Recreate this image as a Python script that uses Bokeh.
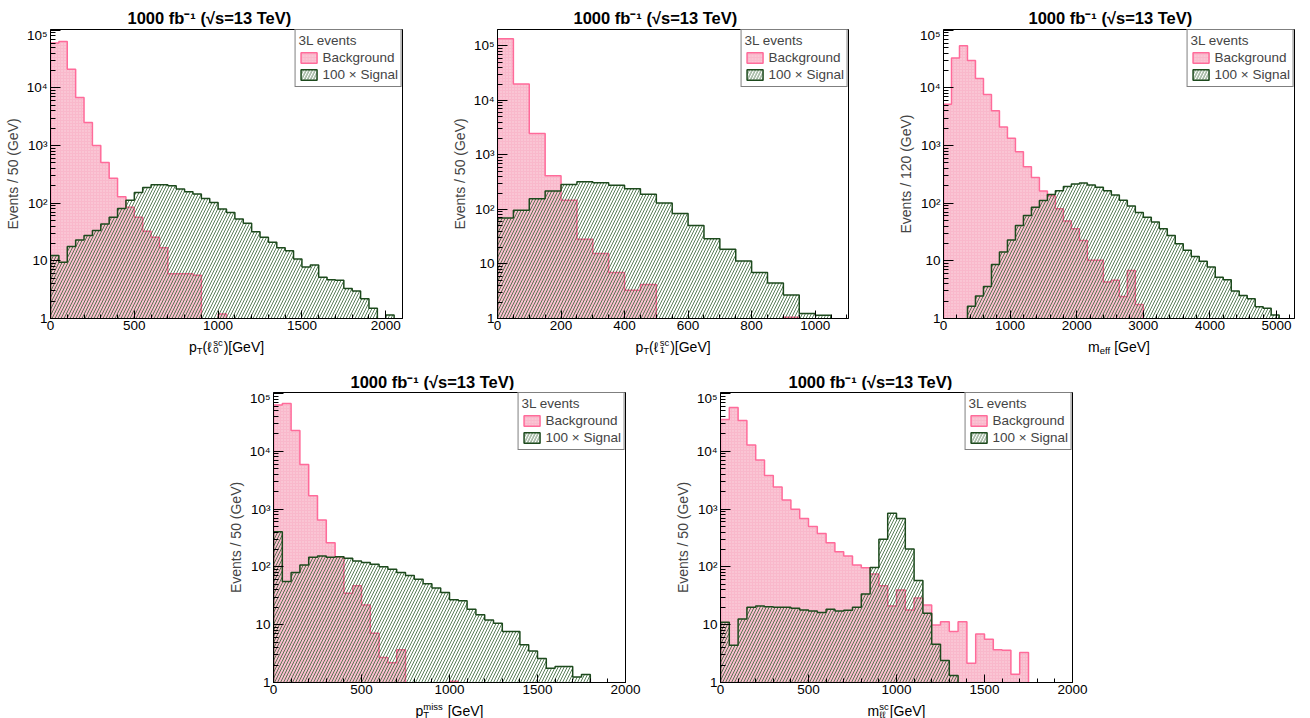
import numpy as np
from bokeh.plotting import figure
from bokeh.models import FixedTicker, Legend, LegendItem, Range1d, Spacer
from bokeh.core.properties import value
from bokeh.layouts import row, column
from bokeh.embed import file_html
from bokeh.resources import INLINE

# ---------------- data (events per bin) ----------------
# Panel 1: pT(l0 sc), 50 GeV bins from 0
pt0_bin = 50
pt0_bkg = [6.0e4, 6.4e4, 2.1e4, 6.8e3, 2.5e3, 1.0e3, 510, 270, 130, 85, 57, 32.5, 25.7, 16.8,
           6.0, 6.0, 6.0, 5.6, 0, 0, 1.2]
pt0_sig = [12.4, 9.5, 17.7, 23, 27.5, 33.6, 43.6, 57, 81, 113, 154, 187, 209, 209, 200, 176, 158,
           144, 121, 103, 79, 69, 53, 45, 32, 25.7, 21, 16.8, 15, 10.8, 7.8, 8.5, 5.2, 4.7, 4.6,
           3.3, 3.0, 2.2, 1.5, 0, 1.15]

# Panel 2: pT(l1 sc), 50 GeV bins from 0
pt1_bin = 50
pt1_bkg = [1.36e5, 2.0e4, 2.47e3, 414, 148, 28.5, 15.5, 7.0, 3.3, 4.2, 0, 0, 0, 0, 0, 0, 0, 0, 1.05]
pt1_sig = [70, 97, 158, 219, 286, 323, 308, 278, 239, 190, 132, 84, 51, 29, 18.7, 11.4, 7.0, 4.5,
           2.7, 1.23, 1.15]

# Panel 3: m_eff, 120 GeV bins from 0
meff_bin = 120
meff_bkg = [5.2e3, 3.3e4, 5.4e4, 3.0e4, 1.46e4, 7.7e3, 4.0e3, 2.1e3, 1.34e3, 780, 430, 280, 163,
            135, 80, 49, 36, 22.5, 10.2, 10.2, 4.3, 4.6, 2.4, 6.8, 1.75]
meff_sig = [0, 0, 0, 1.63, 2.46, 3.6, 8.6, 14.2, 23, 41, 61, 85, 111, 141, 165, 194, 215, 224, 207,
            189, 165, 139, 113, 89, 69, 57, 47, 36, 27.5, 19.8, 15.2, 11.9, 9.8, 7.8, 5.2, 4.7,
            3.0, 2.5, 2.2, 1.6, 1.5, 1.15]

# Panel 4: pT miss, 50 GeV bins from 0
met_bin = 50
met_bkg = [6.3e4, 6.7e4, 2.3e4, 5.9e3, 1.7e3, 650, 262, 150, 35, 47, 22, 7.1, 2.7, 2.2, 3.7,
           0, 0, 0, 0, 0, 1.05]
met_sig = [406, 56, 80, 108, 147, 155, 147, 150, 141, 126, 119, 111, 101, 91, 80, 71, 61, 51, 43,
           36, 27, 26, 18.5, 14.8, 12.1, 10.6, 7.6, 7.6, 4.5, 3.5, 2.6, 1.77, 1.9, 1.9, 1.24, 1.37]

# Panel 5: m_ll sc, 50 GeV bins from 0
mll_bin = 50
mll_bkg = [3.55e4, 5.7e4, 3.4e4, 1.28e4, 7.1e3, 3.8e3, 2.4e3, 1.44e3, 990, 690, 500, 380, 262,
           183, 155, 108, 97, 75, 47, 21, 40, 18, 29, 22, 9.9, 11.3, 7.6, 11.3, 2.15, 6.9, 5.6,
           3.7, 3.6, 1.39, 3.3]
mll_sig = [11, 4.4, 12.6, 20, 21, 20.5, 20, 20, 19.3, 18, 17.3, 16.2, 18.5, 17.3, 17.8, 20, 34,
           98, 300, 850, 690, 204, 58, 15.8, 4.6, 2.4, 1.32]

title_text = "1000 fb\u207b\u00b9 (\u221as=13 TeV)"
legend_title = "3L events"
bkg_label = "Background"
sig_label = "100 \u00d7 Signal"

# ---------------- style ----------------
FONT = "Liberation Sans"
PINK_FILL = "#f9b8cb"
PINK_LINE = "#ff6b9a"
GREEN_LINE = "#1d4a1d"
GREEN_HATCH = "#2f5f2f"

AW = {' ': 278, '(': 333, ')': 333, '[': 278, ']': 278, '/': 278, 'G': 778, 'V': 667, 'T': 611,
      'e': 556, 'm': 833, 'f': 278, 'p': 556, 's': 500, 'c': 500, 'i': 222, '\u2113': 430,
      '0': 556, '1': 556}

TICK_SPACE = 19


def text_w(s, size):
    return sum(AW.get(ch, 556) for ch in s) * size / 1000.0


def step_poly(bw, vals, floor=0.3):
    xs, ys = [0.0], [floor]
    for i, v in enumerate(vals):
        y = v if v > 0 else floor
        xs += [i * bw, (i + 1) * bw]
        ys += [y, y]
    xs.append(len(vals) * bw)
    ys.append(floor)
    return xs, ys


def strip(width, height, bl, br, fw):
    s = figure(width=width, height=height, x_range=Range1d(0, fw), y_range=Range1d(0, height),
               x_axis_type=None, y_axis_type=None, output_backend="svg", toolbar_location=None,
               title=None, min_border_left=bl, min_border_right=br, min_border_top=0,
               min_border_bottom=0)
    s.outline_line_color = None
    s.background_fill_color = "white"
    s.border_fill_color = "white"
    return s


def put(s, x, y, text, size, style="normal"):
    stripped = text.lstrip(" ")
    x += (len(text) - len(stripped)) * AW[' '] * size / 1000.0
    s.text(x=[x], y=[y], text=[stripped], text_font=value(FONT),
           text_font_size=value(f"{size}px"), text_font_style=value(style), text_align="left",
           text_baseline="middle", text_color="black")


def add_xlabel(s, parts, fw, mid):
    big, small = 14, 9.5
    widths = []
    for kind, t in parts:
        if kind == "n":
            widths.append(text_w(t, big))
        elif kind in ("sub", "sup"):
            widths.append(text_w(t, small))
        else:
            widths.append(max(text_w(t[0], small), text_w(t[1], small)) + 1)
    x = fw / 2 - sum(widths) / 2
    for (kind, t), w in zip(parts, widths):
        if kind == "n":
            put(s, x, mid, t, big)
        elif kind == "sub":
            put(s, x, mid - 3.5, t, small)
        elif kind == "sup":
            put(s, x, mid + 4.5, t, small)
        else:
            put(s, x, mid + 4.5, t[0], small)
            put(s, x, mid - 3.5, t[1], small)
        x += w


def panel(width, bl, br, bt, fh, bb, x_end, y_end, bw, bkg, sig, ylabel,
          xmajor, xminor, xparts, t_off, t_mid):
    fw = width - bl - br
    p = figure(width=width, height=2 + fh + TICK_SPACE, x_range=Range1d(0, x_end),
               y_range=Range1d(1, y_end), y_axis_type="log", output_backend="svg",
               toolbar_location=None, title=None, min_border_left=bl, min_border_right=br,
               min_border_top=2, min_border_bottom=TICK_SPACE)
    p.grid.visible = False
    p.outline_line_color = "black"
    p.outline_line_width = 1
    p.background_fill_color = "white"
    p.border_fill_color = "white"

    bx, by = step_poly(bw, bkg)
    rb = p.patch(bx, by, fill_color=PINK_FILL, line_color=PINK_LINE, line_width=1.5,
                 hatch_pattern="dot", hatch_color="white", hatch_alpha=0.45, hatch_scale=3,
                 hatch_weight=1)
    sx, sy = step_poly(bw, sig)
    rs = p.patch(sx, sy, fill_alpha=0, line_color=GREEN_LINE, line_width=1.5,
                 hatch_pattern="/", hatch_color=GREEN_HATCH, hatch_alpha=0.8, hatch_scale=6,
                 hatch_weight=1)

    yt = [10.0 ** k for k in range(0, 6)]
    ymin = [m * 10.0 ** k for k in range(0, 6) for m in range(2, 10)]
    p.yaxis.ticker = FixedTicker(ticks=yt, minor_ticks=ymin)
    p.yaxis.major_label_overrides = {1: "1", 10: "10", 100: "10\u00b2", 1000: "10\u00b3",
                                     10000: "10\u2074", 100000: "10\u2075"}
    xt = list(np.arange(0, x_end + 1, xmajor))
    xm = list(np.arange(0, x_end + 1, xminor))
    p.xaxis.ticker = FixedTicker(ticks=xt, minor_ticks=xm)
    for ax in (p.xaxis, p.yaxis):
        ax.axis_line_color = "black"
        ax.major_tick_line_color = "black"
        ax.minor_tick_line_color = "black"
        ax.major_tick_out = 0
        ax.minor_tick_out = 0
        ax.major_label_text_font = FONT
        ax.major_label_text_font_size = "13.5px"
        ax.major_label_text_color = "black"
    p.yaxis.major_tick_in = 10
    p.yaxis.minor_tick_in = 5
    p.xaxis.major_tick_in = 8
    p.xaxis.minor_tick_in = 4
    p.xaxis.major_label_standoff = 2
    p.yaxis.major_label_standoff = 3
    p.yaxis.axis_label = ylabel
    p.yaxis.axis_label_text_font = FONT
    p.yaxis.axis_label_text_font_size = "14px"
    p.yaxis.axis_label_text_font_style = "normal"
    p.yaxis.axis_label_standoff = 3

    leg = Legend(items=[LegendItem(label=bkg_label, renderers=[rb]),
                        LegendItem(label=sig_label, renderers=[rs])],
                 location="top_right", title=legend_title)
    leg.margin = 0
    leg.padding = 3
    leg.spacing = 0
    leg.border_line_color = "black"
    leg.border_line_width = 1.2
    leg.background_fill_color = "white"
    leg.background_fill_alpha = 1
    leg.label_text_font = FONT
    leg.label_text_font_size = "13.5px"
    leg.title_text_font = FONT
    leg.title_text_font_size = "13.5px"
    leg.title_text_font_style = "normal"
    leg.title_standoff = 1
    leg.glyph_width = 20
    leg.glyph_height = 13
    leg.label_height = 17
    leg.label_standoff = 4
    p.add_layout(leg)

    top_h = bt - 2
    top = strip(width, top_h, bl, br, fw)
    put(top, t_off, t_mid, title_text, 16.5, "bold")
    bot_h = bb - TICK_SPACE
    bot = strip(width, bot_h, bl, br, fw)
    add_xlabel(bot, xparts, fw, bot_h - 9)
    return column(top, p, bot)


c1 = panel(445, 50, 43, 29, 289, 40, 2100, 1.03e5, pt0_bin, pt0_bkg, pt0_sig,
           "Events / 50 (GeV)", 500, 100,
           [("n", "p"), ("sub", "T"), ("n", "(\u2113"), ("st", ("sc", "0")), ("n", ")[GeV]")],
           77, 10)
c2 = panel(445, 52, 42, 29, 289, 40, 1105, 2.0e5, pt1_bin, pt1_bkg, pt1_sig,
           "Events / 50 (GeV)", 200, 50,
           [("n", "p"), ("sub", "T"), ("n", "(\u2113"), ("st", ("sc", "1")), ("n", ")[GeV]")],
           76, 10)
c3 = panel(420, 53, 16, 29, 289, 40, 5270, 1.03e5, meff_bin, meff_bkg, meff_sig,
           "Events / 120 (GeV)", 1000, 200,
           [("n", "m"), ("sub", "eff"), ("n", " [GeV]")], 85, 10)
c4 = panel(445, 50, 43, 34, 290, 36, 2000, 1.04e5, met_bin, met_bkg, met_sig,
           "Events / 50 (GeV)", 500, 100,
           [("n", "p"), ("st", ("miss", "T")), ("n", " [GeV]")], 77, 9)
c5 = panel(434, 52, 30, 34, 290, 36, 2000, 1.04e5, mll_bin, mll_bkg, mll_sig,
           "Events / 50 (GeV)", 500, 100,
           [("n", "m"), ("st", ("sc", "\u2113\u2113")), ("n", "[GeV]")], 68, 9)

layout = column(row(c1, c2, c3), row(Spacer(width=223, height=360), c4, c5))
open("out.html", "w").write(file_html(layout, INLINE))
